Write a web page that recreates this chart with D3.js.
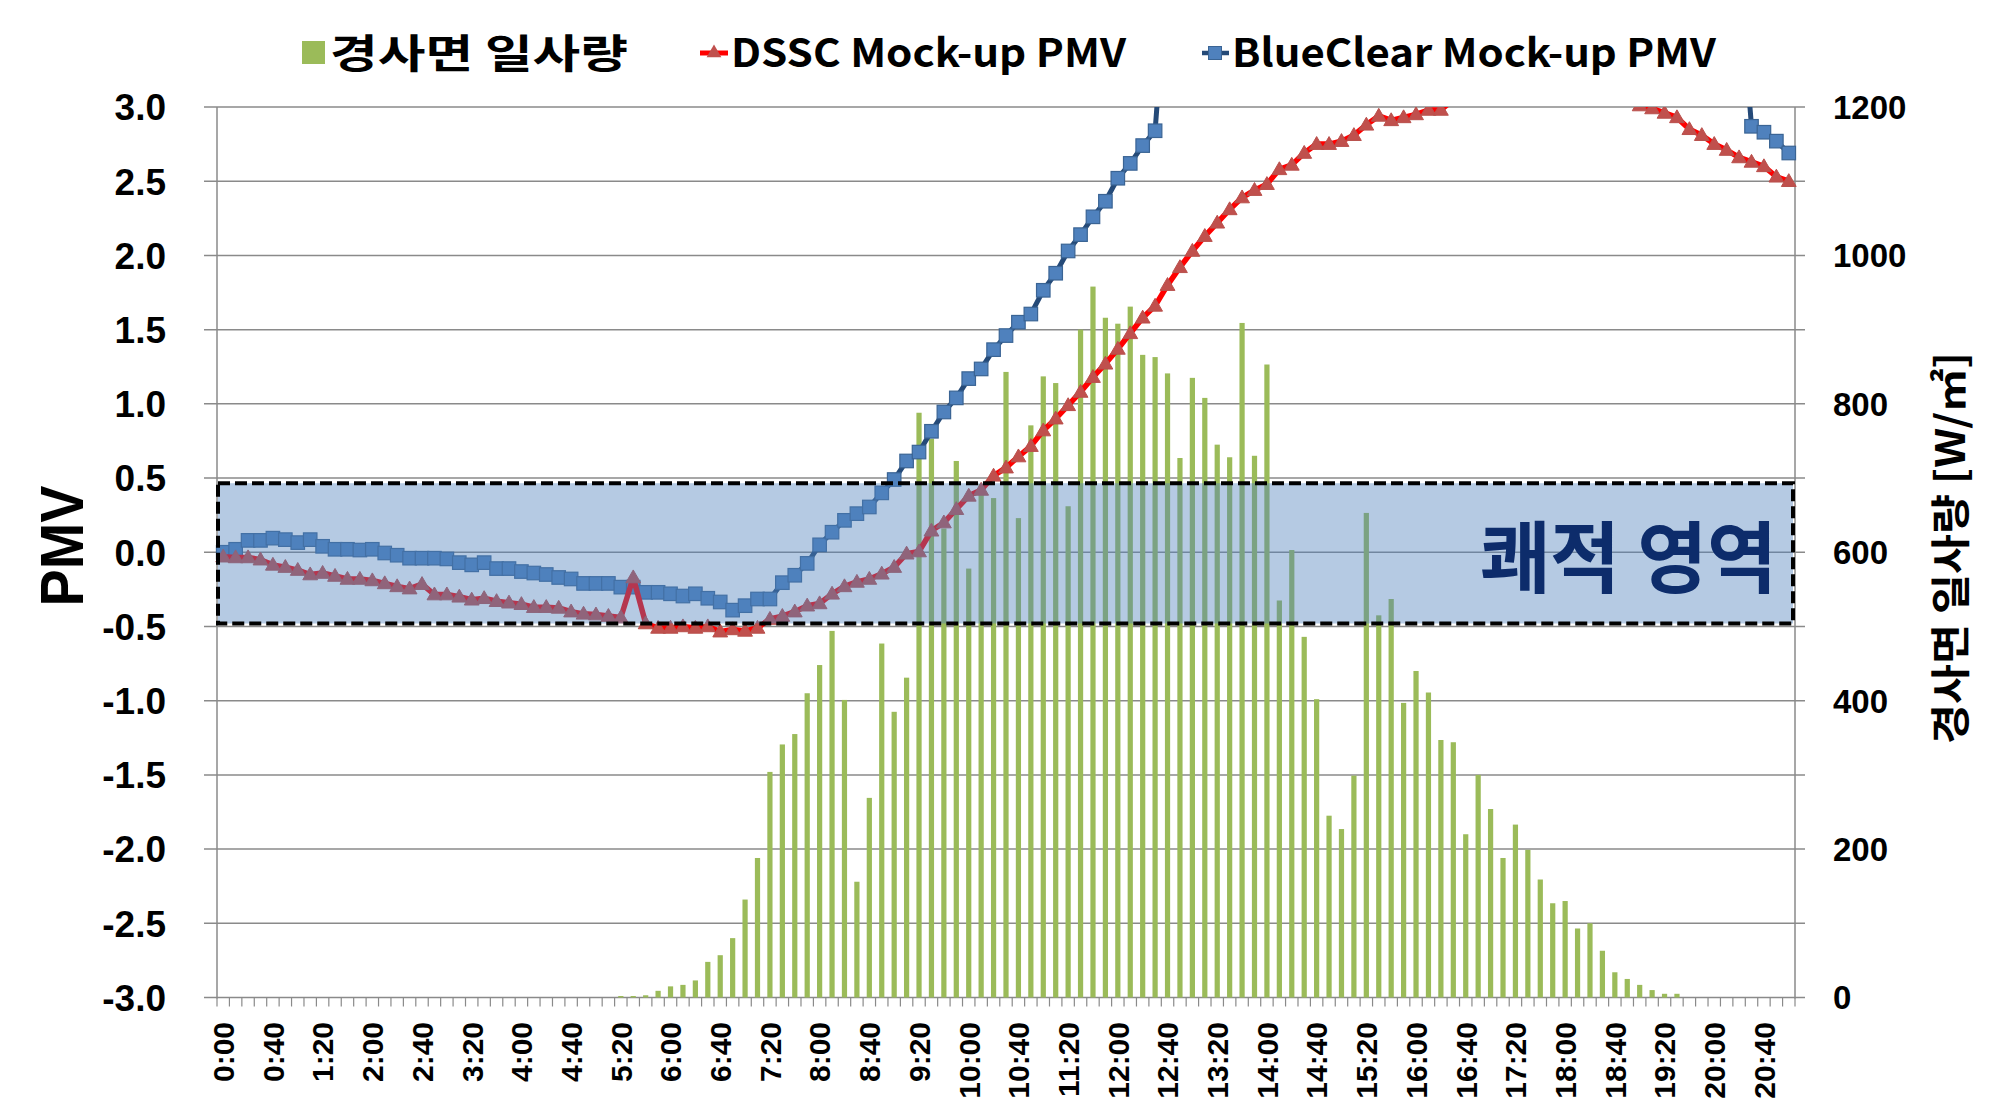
<!DOCTYPE html>
<html>
<head>
<meta charset="utf-8">
<script src="https://cdn.jsdelivr.net/npm/d3@7"></script>
<style>
  html, body { margin: 0; padding: 0; background: #ffffff; }
  svg { display: block; }
</style>
</head>
<body>
<svg id="chart" width="2000" height="1117"></svg>
<script>
// ---------------- DATA ----------------
const categories = [
  "0:00","0:10","0:20","0:30","0:40","0:50",
  "1:00","1:10","1:20","1:30","1:40","1:50",
  "2:00","2:10","2:20","2:30","2:40","2:50",
  "3:00","3:10","3:20","3:30","3:40","3:50",
  "4:00","4:10","4:20","4:30","4:40","4:50",
  "5:00","5:10","5:20","5:30","5:40","5:50",
  "6:00","6:10","6:20","6:30","6:40","6:50",
  "7:00","7:10","7:20","7:30","7:40","7:50",
  "8:00","8:10","8:20","8:30","8:40","8:50",
  "9:00","9:10","9:20","9:30","9:40","9:50",
  "10:00","10:10","10:20","10:30","10:40","10:50",
  "11:00","11:10","11:20","11:30","11:40","11:50",
  "12:00","12:10","12:20","12:30","12:40","12:50",
  "13:00","13:10","13:20","13:30","13:40","13:50",
  "14:00","14:10","14:20","14:30","14:40","14:50",
  "15:00","15:10","15:20","15:30","15:40","15:50",
  "16:00","16:10","16:20","16:30","16:40","16:50",
  "17:00","17:10","17:20","17:30","17:40","17:50",
  "18:00","18:10","18:20","18:30","18:40","18:50",
  "19:00","19:10","19:20","19:30","19:40","19:50",
  "20:00","20:10","20:20","20:30","20:40","20:50",
  "21:00"
];

const xTickLabels = [
  "0:00","0:40","1:20","2:00","2:40","3:20","4:00","4:40",
  "5:20","6:00","6:40","7:20","8:00","8:40","9:20","10:00",
  "10:40","11:20","12:00","12:40","13:20","14:00","14:40","15:20",
  "16:00","16:40","17:20","18:00","18:40","19:20","20:00","20:40"
];

const pmvTicks = [3.0, 2.5, 2.0, 1.5, 1.0, 0.5, 0.0, -0.5, -1.0, -1.5, -2.0, -2.5, -3.0];
const pmvTickLabels = ["3.0","2.5","2.0","1.5","1.0","0.5","0.0","-0.5","-1.0","-1.5","-2.0","-2.5","-3.0"];
const radTicks = [1200, 1000, 800, 600, 400, 200, 0];
const radTickLabels = ["1200","1000","800","600","400","200","0"];

// 경사면 일사량 [W/㎡]
const radiation = [
  0,0,0,0,0,0,0,0,0,0,
  0,0,0,0,0,0,0,0,0,0,
  0,0,0,0,0,0,0,0,0,0,
  0,0,2,2,3,9,15,17,23,48,
  57,80,132,188,304,341,355,410,448,494,
  401,156,269,477,385,431,788,753,632,723,
  578,692,673,843,646,771,837,828,662,900,
  958,916,908,931,866,863,841,727,835,808,
  745,728,909,730,853,535,603,486,402,245,
  227,299,653,515,537,397,440,411,347,344,
  220,300,254,188,233,199,159,127,130,93,
  100,63,34,25,17,10,5,5,0,0,
  0,0,0,0,0,0,0
];

// DSSC Mock-up PMV
const dsscPMV = [
  -0.03,-0.035,-0.035,-0.05,-0.085,-0.10,-0.12,-0.15,-0.14,-0.16,
  -0.18,-0.18,-0.19,-0.21,-0.23,-0.245,-0.215,-0.285,-0.285,-0.30,
  -0.32,-0.31,-0.33,-0.34,-0.35,-0.37,-0.37,-0.375,-0.40,-0.415,
  -0.42,-0.43,-0.44,-0.17,-0.48,-0.51,-0.51,-0.50,-0.51,-0.50,
  -0.535,-0.52,-0.53,-0.51,-0.45,-0.43,-0.40,-0.36,-0.345,-0.28,
  -0.23,-0.20,-0.18,-0.145,-0.10,-0.01,0.005,0.145,0.20,0.29,
  0.38,0.42,0.515,0.57,0.645,0.715,0.82,0.90,0.99,1.08,
  1.18,1.27,1.37,1.475,1.58,1.66,1.80,1.92,2.03,2.13,
  2.22,2.31,2.39,2.44,2.48,2.58,2.61,2.69,2.75,2.75,
  2.77,2.81,2.88,2.94,2.91,2.93,2.95,2.98,2.98,3.05,
  3.08,3.11,3.14,3.16,3.18,3.20,3.21,3.20,3.18,3.15,
  3.12,3.09,3.06,3.04,3.01,2.99,2.96,2.93,2.85,2.81,
  2.75,2.71,2.66,2.63,2.60,2.53,2.50
];

// BlueClear Mock-up PMV
const blueClearPMV = [
  0.0,0.02,0.08,0.08,0.095,0.085,0.065,0.085,0.04,0.02,
  0.02,0.015,0.02,-0.005,-0.02,-0.04,-0.04,-0.04,-0.045,-0.07,
  -0.085,-0.07,-0.11,-0.11,-0.13,-0.14,-0.15,-0.17,-0.18,-0.21,
  -0.21,-0.21,-0.235,-0.235,-0.27,-0.27,-0.28,-0.295,-0.28,-0.31,
  -0.335,-0.39,-0.36,-0.315,-0.315,-0.205,-0.155,-0.075,0.05,0.135,
  0.215,0.26,0.305,0.40,0.49,0.615,0.675,0.815,0.945,1.04,
  1.17,1.235,1.365,1.46,1.55,1.605,1.765,1.88,2.03,2.14,
  2.26,2.365,2.52,2.62,2.74,2.84,3.95,4.05,4.12,4.20,
  4.26,4.31,4.36,4.40,4.43,4.46,4.48,4.50,4.52,4.53,
  4.54,4.55,4.56,4.56,4.55,4.54,4.53,4.52,4.50,4.48,
  4.46,4.44,4.42,4.40,4.37,4.34,4.31,4.28,4.25,4.22,
  4.19,4.16,4.13,4.10,4.07,4.05,4.02,4.00,3.98,3.96,
  3.94,3.92,3.90,2.87,2.83,2.77,2.69
];

const comfortZone = [-0.48, 0.465];

// ---------------- LAYOUT ----------------
const svg = d3.select("#chart");
const W = 2000, H = 1117;
const plot = { left: 217, right: 1795, top: 107, bottom: 997.5 };

svg.append("rect").attr("width", W).attr("height", H).attr("fill", "#ffffff");

const x = d3.scaleBand().domain(categories).range([plot.left, plot.right]).paddingInner(0).paddingOuter(0);
const bw = x.bandwidth();
const cx = c => x(c) + bw / 2;
const yL = d3.scaleLinear().domain([-3, 3]).range([plot.bottom, plot.top]);
const yR = d3.scaleLinear().domain([0, 1200]).range([plot.bottom, plot.top]);

const gridColor = "#8a8a8a";

// gridlines (with outer ticks)
svg.append("g").selectAll("line").data(pmvTicks).join("line")
  .attr("x1", plot.left - 13).attr("x2", plot.right + 10)
  .attr("y1", d => yL(d)).attr("y2", d => yL(d))
  .attr("stroke", gridColor).attr("stroke-width", 1.5);

// vertical axis lines
svg.append("line").attr("x1", plot.left).attr("x2", plot.left)
  .attr("y1", plot.top).attr("y2", plot.bottom + 1)
  .attr("stroke", gridColor).attr("stroke-width", 1.5);
svg.append("line").attr("x1", plot.right).attr("x2", plot.right)
  .attr("y1", plot.top).attr("y2", plot.bottom + 1)
  .attr("stroke", gridColor).attr("stroke-width", 1.5);

// x tick marks at category boundaries
const boundaries = categories.map(c => x(c)).concat([plot.right]);
svg.append("g").selectAll("line").data(boundaries).join("line")
  .attr("x1", d => d).attr("x2", d => d)
  .attr("y1", plot.bottom).attr("y2", plot.bottom + 9)
  .attr("stroke", gridColor).attr("stroke-width", 1.2);

// clip path for the plot
svg.append("clipPath").attr("id", "plotClip").append("rect")
  .attr("x", plot.left - 10).attr("y", plot.top)
  .attr("width", plot.right - plot.left + 20).attr("height", plot.bottom - plot.top);

// bars
const barW = bw * 0.42;
svg.append("g").selectAll("rect").data(radiation.map((v, i) => ({ c: categories[i], v })).filter(d => d.v > 0)).join("rect")
  .attr("x", d => cx(d.c) - barW / 2)
  .attr("y", d => yR(d.v))
  .attr("width", barW)
  .attr("height", d => yR(0) - yR(d.v))
  .attr("fill", "#9bbb59");

const linesG = svg.append("g").attr("clip-path", "url(#plotClip)");

// BlueClear line
const blueData = blueClearPMV.map((v, i) => ({ c: categories[i], v }));
linesG.append("path").datum(blueData)
  .attr("d", d3.line().x(d => cx(d.c)).y(d => yL(d.v)))
  .attr("fill", "none").attr("stroke", "#254a78").attr("stroke-width", 5)
  .attr("stroke-linejoin", "round");
const sq = 13.5;
linesG.append("g").selectAll("rect").data(blueData.filter(d => d.v <= 3.05)).join("rect")
  .attr("x", d => cx(d.c) - sq / 2).attr("y", d => yL(d.v) - sq / 2)
  .attr("width", sq).attr("height", sq)
  .attr("fill", "#4f81bd").attr("stroke", "#3a6494").attr("stroke-width", 1.2);

// DSSC line
const redData = dsscPMV.map((v, i) => ({ c: categories[i], v }));
linesG.append("path").datum(redData)
  .attr("d", d3.line().x(d => cx(d.c)).y(d => yL(d.v)))
  .attr("fill", "none").attr("stroke", "#ff0000").attr("stroke-width", 5.5)
  .attr("stroke-linejoin", "round");
const tri = d3.symbol().type(d3.symbolTriangle).size(95);
linesG.append("g").selectAll("path").data(redData.filter(d => d.v <= 3.05)).join("path")
  .attr("transform", d => `translate(${cx(d.c)},${yL(d.v) + 1})`)
  .attr("d", tri())
  .attr("fill", "#c0504d").attr("stroke", "#b9504c").attr("stroke-width", 1);

// comfort zone box (translucent, on top)
svg.append("rect")
  .attr("x", plot.left + 1).attr("y", yL(comfortZone[1]))
  .attr("width", plot.right - plot.left - 3)
  .attr("height", yL(comfortZone[0]) - yL(comfortZone[1]))
  .attr("fill", "#4f81bd").attr("fill-opacity", 0.42)
  .attr("stroke", "#000000").attr("stroke-width", 4)
  .attr("stroke-dasharray", "12,5");

svg.append("text")
  .attr("x", 1480).attr("y", 587)
  .attr("font-family", "'Noto Sans CJK KR', sans-serif")
  .attr("font-weight", "bold").attr("font-size", 78)
  .attr("fill", "#0d2c6b")
  .attr("textLength", 297).attr("lengthAdjust", "spacingAndGlyphs")
  .text("쾌적 영역");

// left tick labels
svg.append("g").selectAll("text").data(pmvTicks).join("text")
  .attr("x", 166).attr("y", d => yL(d))
  .attr("dy", "0.36em")
  .attr("text-anchor", "end")
  .attr("font-family", "'Liberation Sans', Arial, sans-serif")
  .attr("font-weight", "bold").attr("font-size", 37)
  .attr("fill", "#000")
  .text((d, i) => pmvTickLabels[i]);

// right tick labels
svg.append("g").selectAll("text").data(radTicks).join("text")
  .attr("x", 1833).attr("y", d => yR(d))
  .attr("dy", "0.36em")
  .attr("text-anchor", "start")
  .attr("font-family", "'Liberation Sans', Arial, sans-serif")
  .attr("font-weight", "bold").attr("font-size", 33)
  .attr("fill", "#000")
  .text((d, i) => radTickLabels[i]);

// x tick labels
svg.append("g").selectAll("text").data(xTickLabels).join("text")
  .attr("transform", d => `translate(${cx(d)},1022) rotate(-90)`)
  .attr("dy", "0.36em")
  .attr("text-anchor", "end")
  .attr("font-family", "'Liberation Sans', Arial, sans-serif")
  .attr("font-weight", "bold").attr("font-size", 30)
  .attr("fill", "#000")
  .text(d => d);

// left axis title
svg.append("text")
  .attr("transform", "translate(61,546) rotate(-90)")
  .attr("dy", "0.36em")
  .attr("text-anchor", "middle")
  .attr("font-family", "'Liberation Sans', Arial, sans-serif")
  .attr("font-weight", "bold").attr("font-size", 62)
  .attr("textLength", 121).attr("lengthAdjust", "spacingAndGlyphs")
  .text("PMV");

// right axis title
svg.append("text")
  .attr("transform", "translate(1951,548) rotate(-90)")
  .attr("dy", "0.36em")
  .attr("text-anchor", "middle")
  .attr("font-family", "'Noto Sans CJK KR', sans-serif")
  .attr("font-weight", "bold").attr("font-size", 40)
  .attr("textLength", 392).attr("lengthAdjust", "spacingAndGlyphs")
  .text("경사면 일사량 [W/㎡]");

// legend
const lg = svg.append("g");
const ly = 53;
lg.append("rect").attr("x", 302).attr("y", ly - 12).attr("width", 23).attr("height", 23).attr("fill", "#9bbb59");
lg.append("text").attr("x", 330).attr("y", ly + 15)
  .attr("font-family", "'Noto Sans CJK KR', sans-serif").attr("font-weight", "bold").attr("font-size", 40)
  .attr("textLength", 298).attr("lengthAdjust", "spacingAndGlyphs")
  .text("경사면 일사량");
lg.append("line").attr("x1", 700).attr("x2", 728).attr("y1", ly).attr("y2", ly)
  .attr("stroke", "#ff0000").attr("stroke-width", 5);
lg.append("path").attr("transform", `translate(714,${ly})`).attr("d", tri()).attr("fill", "#c0504d");
lg.append("text").attr("x", 731).attr("y", ly + 14)
  .attr("font-family", "'Noto Sans CJK KR', sans-serif").attr("font-weight", "bold").attr("font-size", 39)
  .attr("textLength", 395).attr("lengthAdjust", "spacingAndGlyphs")
  .text("DSSC Mock-up PMV");
lg.append("line").attr("x1", 1202).attr("x2", 1229).attr("y1", ly).attr("y2", ly)
  .attr("stroke", "#254a78").attr("stroke-width", 4.5);
lg.append("rect").attr("x", 1215 - 6.5).attr("y", ly - 6.5).attr("width", 13).attr("height", 13)
  .attr("fill", "#4f81bd").attr("stroke", "#3a6494").attr("stroke-width", 1);
lg.append("text").attr("x", 1232).attr("y", ly + 14)
  .attr("font-family", "'Noto Sans CJK KR', sans-serif").attr("font-weight", "bold").attr("font-size", 39)
  .attr("textLength", 484).attr("lengthAdjust", "spacingAndGlyphs")
  .text("BlueClear Mock-up PMV");
</script>
</body>
</html>
